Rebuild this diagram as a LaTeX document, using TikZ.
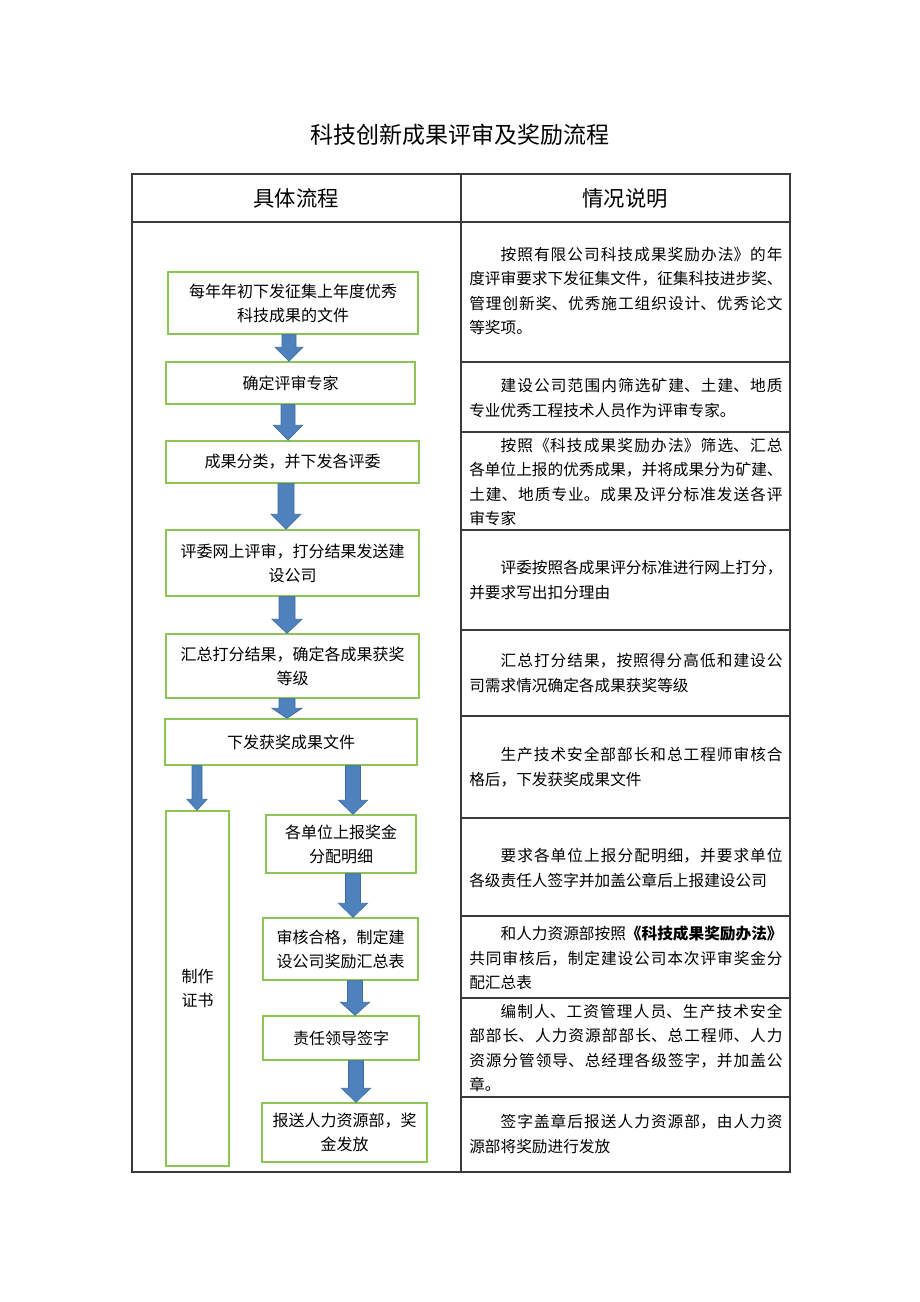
\documentclass[tikz,border=0pt]{standalone}
\usepackage{fontspec}
\setmainfont{Noto Sans CJK SC}
\usetikzlibrary{calc}
\definecolor{boxgreen}{HTML}{8DC454}
\definecolor{arrowblue}{HTML}{4F81BD}
\definecolor{arrowedge}{HTML}{3C6CA6}
\definecolor{rulegray}{HTML}{3A3A3A}
\XeTeXlinebreaklocale "zh"
\XeTeXlinebreakskip=0pt plus 3pt
\newcommand\bx[6]{\node[flowbox, minimum width={(#4-#2)*0.75pt}, minimum height={(#5-#3)*0.75pt}] (#1) at ({(#2+#4)/2},{(#3+#5)/2}) {#6};}
% #1 from node, #2 to node, #3 x (px), #4 shaft width, #5 head width, #6 head length
\newcommand\barrow[6]{\path[arrowfill] let \p1=(#1.south), \p2=(#2.north) in
  ({(#3-#4/2)*0.75pt},\y1) -- ({(#3+#4/2)*0.75pt},\y1) -- ({(#3+#4/2)*0.75pt},{\y2+#6*0.75pt}) --
  ({(#3+#5/2)*0.75pt},{\y2+#6*0.75pt}) -- ({#3*0.75pt},\y2) -- ({(#3-#5/2)*0.75pt},{\y2+#6*0.75pt}) --
  ({(#3-#4/2)*0.75pt},{\y2+#6*0.75pt}) -- cycle;}
\newcommand\desc[3]{\node[desctext] (#1) at (469,#2) {\hspace*{2em}#3};}
\begin{document}
\begin{tikzpicture}[x=0.75pt,y=-0.75pt,
  flowbox/.style={draw=boxgreen, line width=1.1pt, fill=white, align=center, inner sep=0pt,
    font=\fontsize{12pt}{18pt}\selectfont},
  desctext/.style={anchor=west, align=justify, text width=235pt, inner sep=0pt,
    font=\fontsize{11.75pt}{18.3pt}\selectfont},
  arrowfill/.style={fill=arrowblue, draw=arrowedge, line width=0.5pt, line join=miter},
  tableline/.style={draw=rulegray, line width=0.8pt},
  headtext/.style={font=\fontsize{16pt}{18pt}\selectfont, inner sep=0pt}]
\useasboundingbox[fill=white] (0,0) rectangle (920,1302);
% title
\node[font=\fontsize{17.25pt}{20pt}\selectfont, inner sep=0pt] (title) at (460,135) {科技创新成果评审及奖励流程};
% table
\draw[tableline] (132,174) rectangle (790,1172);
\draw[tableline] (132,222) -- (790,222);
\draw[tableline] (461,174) -- (461,1172);
\foreach \yy in {362,432,530,630,716,818,916,998,1097}
  \draw[tableline] (461,\yy) -- (790,\yy);
\node[headtext] (h1) at (296,198) {具体流程};
\node[headtext] (h2) at (625,198) {情况说明};
% flow boxes
\bx{b1}{168}{272}{418}{334}{每年年初下发征集上年度优秀\\科技成果的文件}
\bx{b2}{166}{362}{415}{404}{确定评审专家}
\bx{b3}{166}{441}{419}{483}{成果分类，并下发各评委}
\bx{b4}{166}{530}{419}{596}{评委网上评审，打分结果发送建\\设公司}
\bx{b5}{166}{634}{419}{698}{汇总打分结果，确定各成果获奖\\等级}
\bx{b6}{165}{719}{417}{765}{下发获奖成果文件}
\bx{cert}{166}{811}{229}{1166}{制作\\证书}
\bx{b7}{266}{815}{416}{873}{各单位上报奖金\\分配明细}
\bx{b8}{263}{918}{418}{980}{审核合格，制定建\\设公司奖励汇总表}
\bx{b9}{263}{1016}{419}{1060}{责任领导签字}
\bx{b10}{262}{1103}{427}{1162}{报送人力资源部，奖\\金发放}
% arrows
\barrow{b1}{b2}{289}{14}{28}{14}
\barrow{b2}{b3}{288}{14}{29}{15}
\barrow{b3}{b4}{286}{16}{30}{15}
\barrow{b4}{b5}{287}{16}{30}{14}
\barrow{b5}{b6}{287}{16}{30}{10}
\barrow{b6}{cert}{197}{10}{20}{11}
\barrow{b6}{b7}{353}{15}{29}{14}
\barrow{b7}{b8}{353}{15}{29}{14}
\barrow{b8}{b9}{355}{15}{29}{13}
\barrow{b9}{b10}{356}{15}{29}{14}
% descriptions
\desc{d1}{291}{按照有限公司科技成果奖励办法》的年\linebreak 度评审要求下发征集文件，征集科技进步奖、\linebreak 管理创新奖、优秀施工组织设计、优秀论文\linebreak 等奖项。}
\desc{d2}{398}{建设公司范围内筛选矿建、土建、地质\linebreak 专业优秀工程技术人员作为评审专家。}
\desc{d3}{482}{按照《科技成果奖励办法》筛选、汇总\linebreak 各单位上报的优秀成果，并将成果分为矿建、\linebreak 土建、地质专业。成果及评分标准发送各评\linebreak 审专家}
\desc{d4}{580}{评委按照各成果评分标准进行网上打分，\linebreak 并要求写出扣分理由}
\desc{d5}{673}{汇总打分结果，按照得分高低和建设公\linebreak 司需求情况确定各成果获奖等级}
\desc{d6}{767}{生产技术安全部部长和总工程师审核合\linebreak 格后，下发获奖成果文件}
\desc{d7}{868}{要求各单位上报分配明细，并要求单位\linebreak 各级责任人签字并加盖公章后上报建设公司}
\desc{d8}{958}{和人力资源部按照{\bfseries《科技成果奖励办法》}\linebreak 共同审核后，制定建设公司本次评审奖金分\linebreak 配汇总表}
\desc{d9}{1048}{编制人、工资管理人员、生产技术安全\linebreak 部部长、人力资源部部长、总工程师、人力\linebreak 资源分管领导、总经理各级签字，并加盖公\linebreak 章。}
\desc{d10}{1134}{签字盖章后报送人力资源部，由人力资\linebreak 源部将奖励进行发放}
\end{tikzpicture}
\end{document}
